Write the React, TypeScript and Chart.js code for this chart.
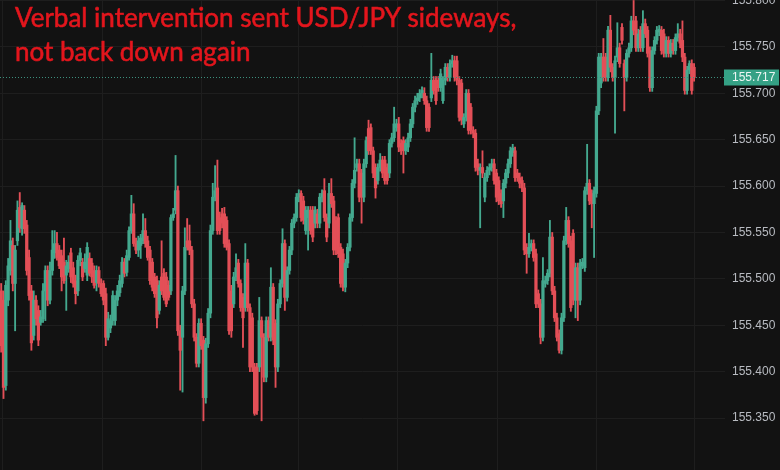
import React, { useEffect, useRef } from "react";
import { Chart, registerables } from "chart.js";

Chart.register(...registerables);

// USD/JPY candles (oldest first)
const opens = [
155.487,155.477,155.385,155.477,155.509,155.536,155.495,155.541,155.577,155.554,
155.574,155.558,155.523,155.487,155.439,155.477,155.466,155.453,155.457,155.487,
155.509,155.477,155.509,155.528,155.538,155.531,155.525,155.518,155.504,155.511,
155.528,155.512,155.498,155.487,155.520,155.518,155.511,155.504,155.522,155.517,
155.509,155.496,155.509,155.495,155.495,155.484,155.437,155.447,155.455,155.455,
155.477,155.485,155.495,155.518,155.507,155.523,155.552,155.570,155.538,155.531,
155.536,155.541,155.552,155.541,155.531,155.518,155.502,155.498,155.466,155.502,
155.506,155.502,155.493,155.487,155.566,155.574,155.595,155.444,155.437,155.487,
155.541,155.541,155.531,155.473,155.437,155.409,155.452,155.434,155.372,155.430,
155.463,155.552,155.588,155.598,155.566,155.570,155.570,155.563,155.538,155.487,
155.473,155.502,155.517,155.495,155.480,155.469,155.517,155.469,155.458,155.405,
155.405,155.405,155.455,155.437,155.394,155.455,155.437,155.491,155.452,155.405,
155.473,155.495,155.538,155.480,155.509,155.531,155.560,155.566,155.588,155.592,
155.584,155.552,155.566,155.574,155.574,155.560,155.570,155.560,155.588,155.595,
155.566,155.560,155.592,155.584,155.563,155.566,155.534,155.527,155.491,155.517,
155.534,155.566,155.603,155.620,155.624,155.614,155.588,155.624,155.662,155.663,
155.638,155.620,155.606,155.620,155.628,155.628,155.620,155.614,155.646,155.652,
155.663,155.667,155.646,155.649,155.638,155.642,155.652,155.667,155.685,155.692,
155.695,155.700,155.700,155.692,155.685,155.695,155.714,155.714,155.714,155.706,
155.692,155.714,155.728,155.717,155.732,155.735,155.735,155.714,155.711,155.667,
155.674,155.700,155.685,155.660,155.657,155.624,155.617,155.620,155.588,155.609,
155.617,155.620,155.624,155.614,155.606,155.592,155.584,155.603,155.614,155.624,
155.636,155.638,155.614,155.609,155.606,155.598,155.534,155.527,155.534,155.538,
155.527,155.484,155.473,155.437,155.495,155.498,155.506,155.545,155.487,155.458,
155.441,155.423,155.458,155.541,155.563,155.541,155.549,155.477,155.512,155.477,
155.514,155.512,155.595,155.603,155.592,155.581,155.592,155.681,155.711,155.739,
155.739,155.717,155.768,155.728,155.717,155.739,155.749,155.771,155.732,155.717,
155.743,155.749,155.778,155.778,155.749,155.768,155.749,155.775,155.768,155.746,
155.706,155.746,155.757,155.766,155.768,155.764,155.743,155.757,155.743,155.754,
155.746,155.760,155.764,155.757,155.739,155.703,155.725,155.732,155.728
];

const highs = [
155.495,155.487,155.498,155.522,155.563,155.544,155.536,155.584,155.593,155.582,
155.579,155.563,155.531,155.493,155.487,155.482,155.471,155.466,155.495,155.514,
155.514,155.518,155.552,155.552,155.550,155.536,155.531,155.544,155.520,155.525,
155.533,155.518,155.504,155.525,155.533,155.522,155.527,155.539,155.528,155.522,
155.514,155.514,155.513,155.500,155.498,155.490,155.464,155.461,155.487,155.482,
155.493,155.504,155.523,155.522,155.531,155.556,155.590,155.581,155.544,155.546,
155.548,155.570,155.565,155.546,155.535,155.522,155.506,155.503,155.498,155.541,
155.511,155.507,155.498,155.569,155.576,155.633,155.600,155.450,155.492,155.555,
155.565,155.558,155.535,155.478,155.441,155.457,155.457,155.438,155.436,155.468,
155.558,155.603,155.622,155.628,155.572,155.576,155.577,155.567,155.542,155.493,
155.507,155.527,155.521,155.499,155.484,155.538,155.521,155.473,155.463,155.409,
155.409,155.480,155.459,155.441,155.459,155.459,155.512,155.495,155.456,155.478,
155.499,155.554,155.542,155.513,155.535,155.564,155.570,155.592,155.596,155.595,
155.589,155.578,155.578,155.578,155.578,155.578,155.575,155.592,155.596,155.608,
155.570,155.603,155.608,155.589,155.567,155.570,155.538,155.532,155.521,155.538,
155.570,155.607,155.652,155.629,155.629,155.618,155.629,155.653,155.671,155.667,
155.642,155.624,155.624,155.635,155.632,155.632,155.624,155.650,155.657,155.685,
155.672,155.674,155.650,155.653,155.650,155.657,155.672,155.689,155.697,155.700,
155.704,155.707,155.706,155.697,155.689,155.743,155.718,155.718,155.718,155.726,
155.718,155.732,155.732,155.736,155.741,155.740,155.740,155.718,155.715,155.678,
155.704,155.704,155.689,155.664,155.661,155.629,155.624,155.638,155.614,155.621,
155.624,155.629,155.629,155.618,155.610,155.596,155.607,155.618,155.629,155.642,
155.645,155.642,155.618,155.614,155.610,155.603,155.538,155.549,155.542,155.542,
155.532,155.488,155.478,155.523,155.503,155.510,155.563,155.550,155.492,155.463,
155.445,155.463,155.546,155.577,155.567,155.546,155.553,155.517,155.517,155.521,
155.522,155.599,155.645,155.607,155.596,155.599,155.686,155.743,155.743,155.759,
155.743,155.772,155.784,155.732,155.740,155.776,155.754,155.775,155.736,155.747,
155.754,155.783,155.800,155.783,155.769,155.772,155.789,155.780,155.772,155.750,
155.750,155.761,155.772,155.773,155.772,155.769,155.761,155.761,155.758,155.758,
155.764,155.775,155.769,155.778,155.743,155.729,155.735,155.736,155.732
];

const lows = [
155.421,155.371,155.380,155.471,155.504,155.487,155.444,155.536,155.550,155.547,
155.549,155.504,155.477,155.423,155.434,155.450,155.428,155.450,155.453,155.455,
155.471,155.473,155.504,155.522,155.520,155.511,155.487,155.495,155.466,155.507,
155.496,155.491,155.473,155.482,155.514,155.498,155.507,155.498,155.503,155.496,
155.490,155.487,155.491,155.481,155.472,155.428,155.434,155.442,155.450,155.450,
155.471,155.481,155.491,155.502,155.503,155.520,155.549,155.535,155.527,155.524,
155.522,155.538,155.534,155.520,155.494,155.487,155.480,155.447,155.462,155.483,
155.477,155.470,155.477,155.483,155.563,155.570,155.439,155.380,155.378,155.483,
155.531,155.526,155.469,155.433,155.405,155.405,155.424,155.347,155.366,155.426,
155.458,155.548,155.584,155.548,155.548,155.555,155.534,155.531,155.440,155.437,
155.469,155.498,155.491,155.465,155.426,155.465,155.465,155.400,155.400,155.353,
155.354,155.400,155.347,155.389,155.389,155.433,155.433,155.429,155.383,155.400,
155.469,155.491,155.466,155.476,155.505,155.526,155.555,155.562,155.583,155.562,
155.559,155.548,155.531,155.548,155.540,155.555,155.555,155.555,155.583,155.562,
155.540,155.555,155.577,155.526,155.526,155.523,155.491,155.487,155.486,155.512,
155.530,155.562,155.598,155.616,155.583,155.560,155.583,155.620,155.634,155.634,
155.609,155.587,155.602,155.616,155.609,155.602,155.602,155.609,155.642,155.648,
155.659,155.637,155.634,155.614,155.634,155.637,155.648,155.663,155.680,155.688,
155.691,155.695,155.688,155.659,155.659,155.691,155.699,155.688,155.702,155.702,
155.689,155.709,155.713,155.713,155.728,155.713,155.709,155.670,155.666,155.663,
155.670,155.656,155.656,155.652,155.616,155.612,155.555,155.609,155.583,155.605,
155.612,155.616,155.602,155.583,155.580,155.577,155.566,155.598,155.609,155.620,
155.632,155.605,155.605,155.598,155.594,155.526,155.506,155.523,155.530,155.519,
155.469,155.469,155.430,155.433,155.491,155.494,155.502,155.483,155.454,155.433,
155.420,155.419,155.454,155.537,155.534,155.465,155.472,155.458,155.455,155.472,
155.511,155.508,155.591,155.580,155.555,155.523,155.588,155.677,155.706,155.713,
155.713,155.713,155.723,155.713,155.657,155.734,155.728,155.753,155.681,155.713,
155.739,155.745,155.763,155.745,155.745,155.745,155.745,155.760,155.739,155.702,
155.702,155.742,155.753,155.762,155.742,155.739,155.739,155.739,155.739,155.742,
155.742,155.756,155.749,155.734,155.699,155.699,155.721,155.699,155.713
];

const closes = [
155.428,155.383,155.493,155.514,155.541,155.495,155.531,155.574,155.555,155.579,
155.554,155.509,155.482,155.431,155.477,155.457,155.434,155.459,155.487,155.509,
155.477,155.509,155.531,155.538,155.523,155.514,155.502,155.498,155.514,155.518,
155.502,155.495,155.484,155.520,155.528,155.502,155.518,155.534,155.506,155.502,
155.493,155.509,155.495,155.484,155.477,155.437,155.457,155.455,155.482,155.477,
155.487,155.498,155.518,155.506,155.525,155.552,155.570,155.538,155.531,155.541,
155.544,155.552,155.538,155.523,155.498,155.491,155.484,155.458,155.493,155.487,
155.480,155.473,155.480,155.566,155.570,155.595,155.444,155.423,155.487,155.534,
155.534,155.531,155.473,155.437,155.409,155.452,155.428,155.372,155.430,155.463,
155.552,155.588,155.595,155.552,155.552,155.560,155.538,155.534,155.444,155.444,
155.502,155.512,155.495,155.469,155.458,155.517,155.469,155.405,155.405,155.355,
155.358,155.455,155.437,155.394,155.455,155.437,155.491,155.434,155.405,155.473,
155.495,155.538,155.480,155.509,155.531,155.560,155.566,155.588,155.592,155.566,
155.563,155.574,155.574,155.552,155.545,155.574,155.560,155.588,155.592,155.566,
155.545,155.592,155.581,155.531,155.531,155.527,155.495,155.491,155.517,155.534,
155.566,155.603,155.617,155.624,155.588,155.588,155.624,155.649,155.638,155.638,
155.614,155.598,155.620,155.628,155.614,155.606,155.606,155.646,155.652,155.667,
155.667,155.642,155.638,155.638,155.646,155.652,155.667,155.685,155.692,155.695,
155.700,155.703,155.692,155.663,155.663,155.714,155.703,155.692,155.706,155.721,
155.714,155.728,155.717,155.732,155.735,155.717,155.714,155.674,155.671,155.674,
155.700,155.660,155.660,155.657,155.620,155.617,155.620,155.614,155.609,155.617,
155.620,155.624,155.606,155.588,155.584,155.581,155.603,155.614,155.624,155.638,
155.641,155.609,155.609,155.603,155.598,155.531,155.527,155.534,155.538,155.523,
155.473,155.473,155.437,155.498,155.498,155.506,155.545,155.487,155.458,155.437,
155.423,155.458,155.541,155.563,155.538,155.469,155.477,155.512,155.477,155.517,
155.518,155.595,155.603,155.584,155.581,155.595,155.681,155.739,155.739,155.717,
155.717,155.768,155.728,155.717,155.735,155.749,155.732,155.757,155.717,155.743,
155.749,155.778,155.768,155.749,155.764,155.749,155.775,155.764,155.743,155.706,
155.746,155.757,155.768,155.769,155.746,155.743,155.757,155.743,155.754,155.746,
155.760,155.764,155.754,155.739,155.703,155.725,155.732,155.703,155.717
];

const yTickValues = [155.35, 155.4, 155.45, 155.5, 155.55, 155.6, 155.65, 155.7, 155.75, 155.8];
const timeGridIndex = [22, 65, 107, 149, 192, 235, 277];
const titleLines = ["Verbal intervention sent USD/JPY sideways,", "not back down again"];

const UP = "#44a98f";
const DOWN = "#e34f57";
const BG = "#121212";
const GRID = "#1e1e1e";

export default function App() {
  const ref = useRef<HTMLCanvasElement>(null);

  useEffect(() => {
    const n = closes.length;
    const idx = closes.map((_, i) => i);
    const colors = idx.map((i) => (closes[i] >= opens[i] ? UP : DOWN));
    const last = closes[n - 1];

    const overlay = {
      id: "overlay",
      afterDraw(chart: any) {
        const { ctx, chartArea } = chart;
        const ys = chart.scales.y;
        const py = Math.round(ys.getPixelForValue(last)) + 0.5;
        ctx.save();
        // dotted last-price line
        ctx.strokeStyle = "#3c8f7d";
        ctx.lineWidth = 1;
        ctx.setLineDash([1, 2]);
        ctx.beginPath();
        ctx.moveTo(chartArea.left, py);
        ctx.lineTo(chartArea.right, py);
        ctx.stroke();
        ctx.setLineDash([]);
        // price tag
        ctx.fillStyle = "#35a185";
        ctx.fillRect(chartArea.right - 1, py - 8, 55, 16);
        ctx.fillStyle = "#eef7f4";
        ctx.font = "12px 'Liberation Sans', Arial, sans-serif";
        ctx.textBaseline = "middle";
        ctx.textAlign = "left";
        ctx.fillText(last.toFixed(3), chartArea.right + 7, py + 0.5);
        // title
        ctx.fillStyle = "#e3161d";
        ctx.strokeStyle = "#e3161d";
        ctx.lineWidth = 0.6;
        ctx.font = "26px Lato, 'Open Sans', sans-serif";
        ctx.textBaseline = "alphabetic";
        ctx.fillText(titleLines[0], 15, 27, 502);
        ctx.strokeText(titleLines[0], 15, 27, 502);
        ctx.fillText(titleLines[1], 15, 61, 502);
        ctx.strokeText(titleLines[1], 15, 61, 502);
        ctx.restore();
      },
    };

    const chart = new Chart(ref.current as HTMLCanvasElement, {
      type: "bar",
      data: {
        datasets: [
          {
            label: "body",
            data: idx.map((i) => ({ x: i, y: [opens[i], closes[i]] })) as any,
            backgroundColor: colors,
            barThickness: 2.6,
            minBarLength: 1,
            grouped: false,
            borderWidth: 0,
            borderSkipped: false,
          } as any,
          {
            label: "wick",
            data: idx.map((i) => ({ x: i, y: [lows[i], highs[i]] })) as any,
            backgroundColor: colors,
            barThickness: 1.2,
            grouped: false,
            borderWidth: 0,
            borderSkipped: false,
          } as any,
        ],
      },
      options: {
        animation: false,
        responsive: true,
        maintainAspectRatio: false,
        layout: { padding: 0 },
        plugins: { legend: { display: false }, tooltip: { enabled: false }, title: { display: false } },
        scales: {
          x: {
            type: "linear",
            min: -0.5,
            max: 311.3,
            offset: false,
            afterBuildTicks: (s: any) => {
              s.ticks = timeGridIndex.map((v) => ({ value: v }));
            },
            afterFit: (s: any) => {
              s.paddingLeft = 0;
              s.paddingRight = 0;
              s.height = 0;
            },
            ticks: { display: false },
            grid: { color: GRID, drawTicks: false },
            border: { display: false },
          },
          y: {
            position: "right",
            min: 155.294,
            max: 155.8005,
            afterBuildTicks: (s: any) => {
              s.ticks = yTickValues.map((v) => ({ value: v }));
            },
            afterFit: (s: any) => {
              s.width = 55;
              s.paddingTop = 0;
              s.paddingBottom = 0;
            },
            ticks: {
              color: "#b8bbc1",
              padding: 7,
              font: { family: "'Liberation Sans', Arial, sans-serif", size: 12 },
              callback: (v: any) => Number(v).toFixed(3),
            },
            grid: { color: GRID, drawTicks: false },
            border: { display: false },
          },
        },
      } as any,
      plugins: [overlay],
    });
    return () => chart.destroy();
  }, []);

  return (
    <div style={{ position: "fixed", left: 0, top: 0, width: 780, height: 470, background: BG }}>
      <canvas ref={ref} />
    </div>
  );
}
